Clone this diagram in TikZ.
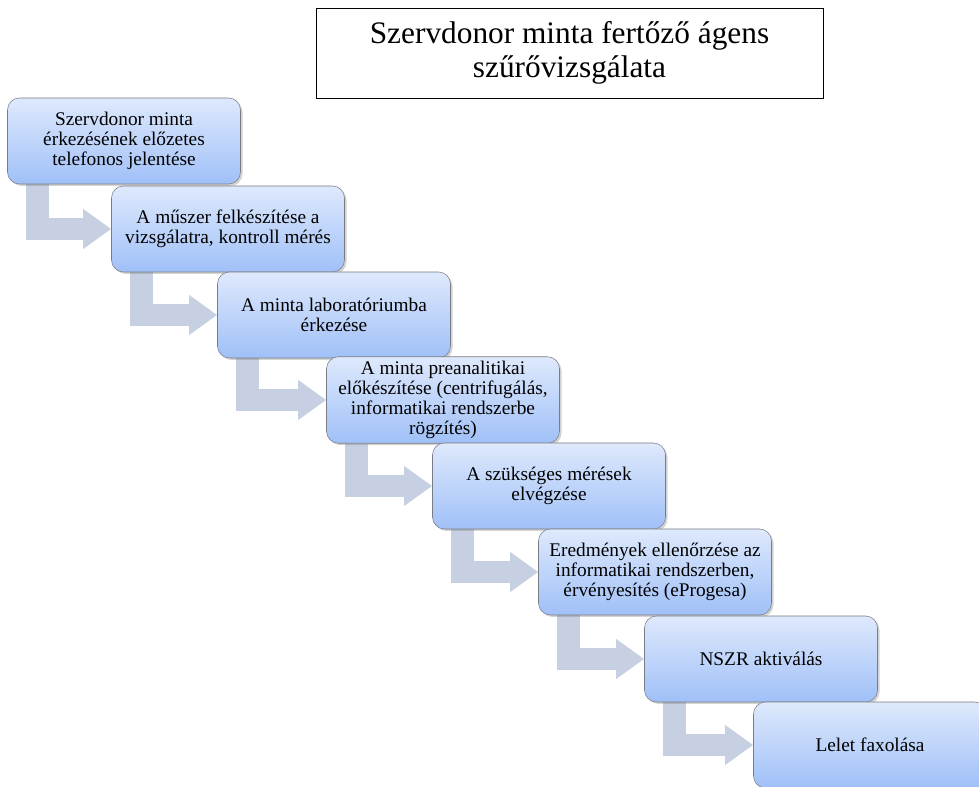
\documentclass[tikz,border=0pt]{standalone}
\usepackage{fontspec}
\setmainfont{Liberation Serif}
\newfontfamily\stepfont{Liberation Serif}
\usetikzlibrary{arrows.meta,shadows,backgrounds}
\definecolor{boxtop}{RGB}{222,233,252}
\definecolor{boxbot}{RGB}{160,192,248}
\definecolor{boxline}{RGB}{120,124,132}
\definecolor{arrowfill}{RGB}{198,208,226}
\tikzset{
  stepbox/.style={draw=boxline,rounded corners=9pt,top color=boxtop,bottom color=boxbot,
    minimum width=174.75pt,minimum height=64.5pt,align=center,
    font=\stepfont\fontsize{14.5}{15}\selectfont,
    drop shadow={shadow xshift=1.5pt,shadow yshift=-1.5pt,opacity=0.35}},
  steparrow/.style={draw=arrowfill,line width=17pt,-{Triangle[length=21pt,width=28.5pt]}},
  titlebox/.style={draw,fill=white,minimum width=380pt,minimum height=67.5pt,align=center,
    font=\stepfont\fontsize{23.5}{26}\selectfont}
}
\begin{document}
\begin{tikzpicture}[x=0.75pt,y=-0.75pt]
	\useasboundingbox (0,0) rectangle (979,787);
	\clip (0,0) rectangle (979,787);
	\node[titlebox] (title) at (569.5,53) {Szervdonor minta fertőző ágens\\szűrővizsgálata};
	% lepesek
	\node[stepbox] (b1) at (124,141) {Szervdonor minta\\érkezésének előzetes\\telefonos jelentése};
	\node[stepbox] (b2) at (228,229) {A műszer felkészítése a\\vizsgálatra, kontroll mérés};
	\node[stepbox] (b3) at (334,315) {A minta laboratóriumba\\érkezése};
	\node[stepbox] (b4) at (443,400) {A minta preanalitikai\\előkészítése (centrifugálás,\\informatikai rendszerbe\\rögzítés)};
	\node[stepbox] (b5) at (549,486) {A szükséges mérések\\elvégzése};
	\node[stepbox] (b6) at (655,572) {Eredmények ellenőrzése az\\informatikai rendszerben,\\érvényesítés (eProgesa)};
	\node[stepbox] (b7) at (761,659) {NSZR aktiválás};
	\node[stepbox] (b8) at (870,745) {Lelet faxolása};
	% nyilak
	\begin{scope}[on background layer]
		\foreach \a/\b in {b1/b2,b2/b3,b3/b4,b4/b5,b5/b6,b6/b7,b7/b8}
		\draw[steparrow] ([xshift=22.5pt]\a.south west) |- (\b.west);
	\end{scope}
\end{tikzpicture}
\end{document}
